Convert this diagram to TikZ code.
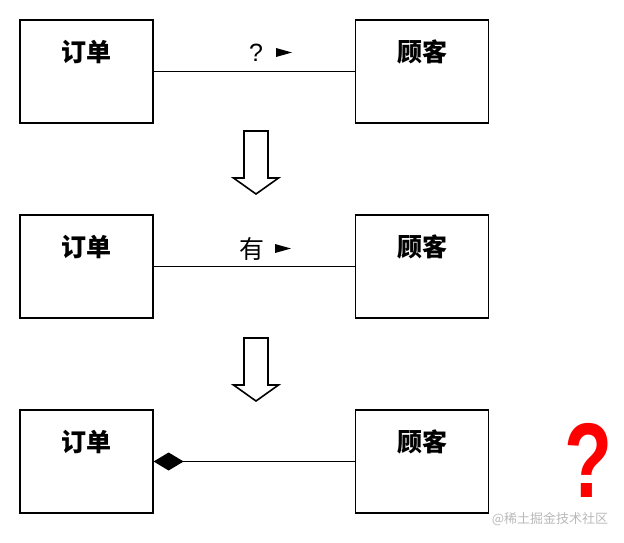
\documentclass[tikz,border=0pt]{standalone}
\usepackage{fontspec}
\setmainfont{Liberation Sans}
\newfontfamily\cjk{Noto Sans CJK SC}
\usepackage{tikz}
\usetikzlibrary{arrows.meta,positioning}

\begin{document}
\begin{tikzpicture}[
  x=1pt, y=-1pt,
  classbox/.style={draw, line width=1.2pt, minimum width=133pt, minimum height=103pt, inner sep=0pt},
  classname/.style={font=\cjk\bfseries\fontsize{25}{25}\selectfont, inner sep=0pt},
  rolename/.style={font=\cjk\fontsize{25}{25}\selectfont, inner sep=0pt},
  assoc/.style={line width=1.3pt},
  hollowarrow/.style={draw, line width=1.6pt, line join=miter}
]
\useasboundingbox (0,0) rectangle (624,542);

% step 1
\node[classbox] (o1) at (86.5,71.5) {};
\node[classbox] (c1) at (422,71.5) {};
\node[classname] (o1n) at ([yshift=-33pt]o1.north) {订单};
\node[classname] (c1n) at ([yshift=-33pt]c1.north) {顾客};
\draw[assoc] (o1) -- (c1);
\node[rolename, font=\fontsize{25}{25}\selectfont] (r1) at (256,52.5) {?};
\fill (276,48) -- (292,52.5) -- (276,57) -- cycle;

% step 2
\node[classbox] (o2) at (86.5,266.5) {};
\node[classbox] (c2) at (422,266.5) {};
\node[classname] (o2n) at ([yshift=-33pt]o2.north) {订单};
\node[classname] (c2n) at ([yshift=-33pt]c2.north) {顾客};
\draw[assoc] (o2) -- (c2);
\node[rolename] (r2) at (251.5,248.5) {有};
\fill (275,244) -- (291,248.5) -- (275,253) -- cycle;

% step 3
\node[classbox] (o3) at (86.5,461.5) {};
\node[classbox] (c3) at (422,461.5) {};
\node[classname] (o3n) at ([yshift=-33pt]o3.north) {订单};
\node[classname] (c3n) at ([yshift=-33pt]c3.north) {顾客};
\draw[assoc, {Diamond[length=30pt,width=18pt]}-] (o3) -- (c3);

% refinement arrows
\foreach \y in {131,338}
  \draw[hollowarrow] (244,\y) -- (268,\y) -- (268,\y+47) -- (278.5,\y+47)
    -- (256,\y+63) -- (233.5,\y+47) -- (244,\y+47) -- cycle;

\node[inner sep=0pt, text depth=0pt, text=red, font=\bfseries\fontsize{60}{60}\selectfont] (qm) at (589,460) {\scalebox{1.31}[1.77]{?}};
\node[inner sep=0pt, text=gray!55, font=\cjk\fontsize{13}{13}\selectfont] (wm) at (550,519) {@稀土掘金技术社区};
\end{tikzpicture}
\end{document}
